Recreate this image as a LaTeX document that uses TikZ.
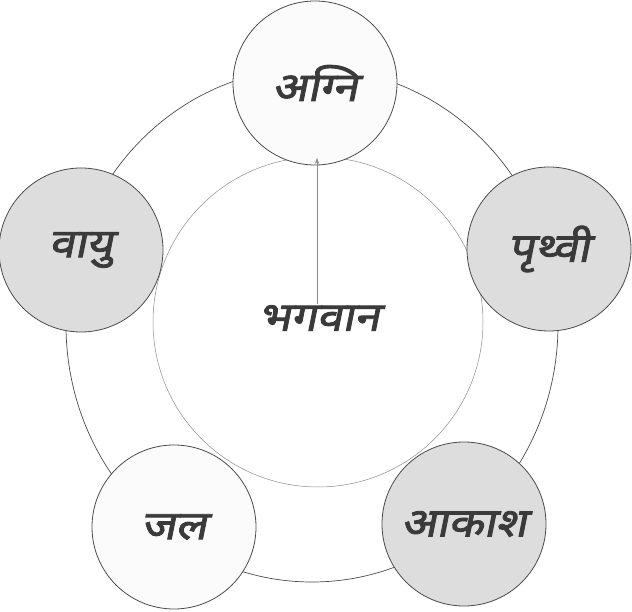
\documentclass[tikz,border=0pt]{standalone}
\usepackage{fontspec}
\newfontfamily\deva[Script=Devanagari,FakeSlant=0.2,FakeBold=2.2,FakeStretch=1.15]{Noto Sans}
\usetikzlibrary{arrows.meta}
\definecolor{ringline}{HTML}{4A4A4A}
\definecolor{innerline}{HTML}{8C8C8C}
\definecolor{graybg}{HTML}{DDDDDE}
\definecolor{whitebg}{HTML}{FBFBFB}
\definecolor{txt}{HTML}{3A3A3A}
\tikzset{
  elem/.style={circle, draw=ringline, line width=0.8pt, minimum size=164pt, inner sep=0pt,
    font=\deva\fontsize{40}{46}\selectfont, text=txt},
  lightelem/.style={elem, fill=whitebg},
  darkelem/.style={elem, fill=graybg},
  centerlbl/.style={font=\deva\fontsize{40}{46}\selectfont, text=txt, inner sep=1pt},
  arrowline/.style={draw=innerline, line width=0.6pt, -{Stealth[length=6pt,width=4.5pt]}}
}
\begin{document}
\begin{tikzpicture}[x=1pt,y=-1pt]
\useasboundingbox (0,0) rectangle (632,612);
% outer ring
\draw[ringline, line width=0.7pt] (312,325) ellipse [x radius=246, y radius=257];
% inner circle
\node[circle, draw=innerline, line width=0.5pt, fill=white, minimum size=330pt, inner sep=0pt] (inner) at (318,322) {};
% satellites
\node[lightelem] (agni) at (315,83) {अग्नि};
\node[darkelem] (prithvi) at (549,249) {पृथ्वी};
\node[darkelem] (vayu) at (81,250) {वायु};
\node[darkelem] (akash) at (464,524) {आकाश};
\node[lightelem] (jal) at (174,527) {जल};
% centre
\node[centerlbl] (bhagwan) at (319,318) {भगवान};
\coordinate (tip) at (317,158);
\draw[arrowline] (bhagwan.north -| tip) -- (tip);
\end{tikzpicture}
\end{document}
